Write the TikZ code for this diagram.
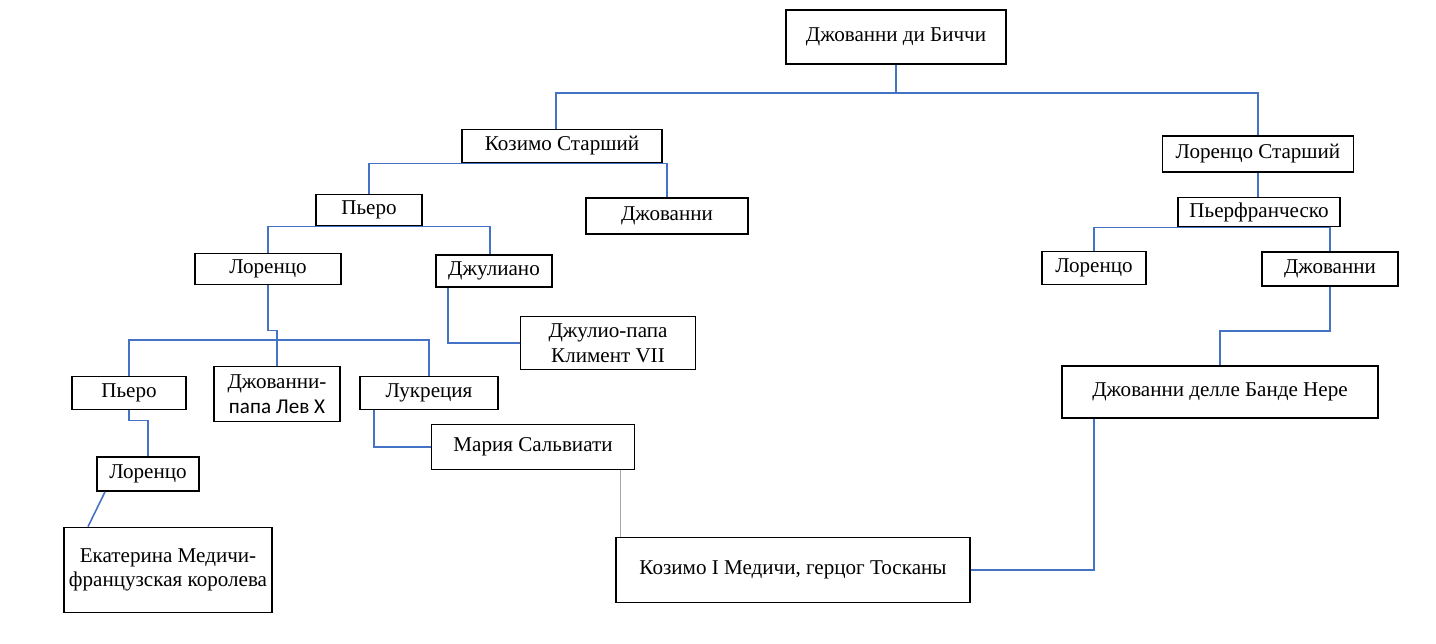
\documentclass[tikz,border=0pt]{standalone}
\usepackage{fontspec}
\setmainfont{Liberation Serif}
\newfontfamily\calibri{Carlito}
\begin{document}
\begin{tikzpicture}[x=0.02cm,y=-0.02cm, line width=0.8pt,
    box/.style={draw=black, line width=1pt, fill=white, align=center, inner sep=1pt,
        font=\fontsize{12}{14}\selectfont},
    kin/.style={draw={rgb,255:red,68;green,114;blue,196}, line width=0.9pt},
    thin/.style={draw=gray!70, line width=0.5pt}]
    \useasboundingbox (0,0) rectangle (1436,643);

    % Top generations
    \node[box, minimum width=4.4cm, minimum height=1.08cm] (gdb) at (896,37) {Джованни ди Биччи};
    \node[box, minimum width=4.0cm, minimum height=0.66cm] (kos) at (562,146) {Козимо Старший};
    \node[box, minimum width=3.82cm, minimum height=0.72cm] (los) at (1258,154) {Лоренцо Старший};
    \node[box, minimum width=2.12cm, minimum height=0.62cm] (pie1) at (369,210) {Пьеро};
    \node[box, minimum width=3.24cm, minimum height=0.72cm] (dzh1) at (667,216) {Джованни};
    \node[box, minimum width=3.24cm, minimum height=0.58cm] (pfr) at (1259,212) {Пьерфранческо};
    \node[box, minimum width=2.92cm, minimum height=0.62cm] (lor2) at (268,269) {Лоренцо};
    \node[box, minimum width=2.32cm, minimum height=0.64cm] (dzhl) at (494,271) {Джулиано};
    \node[box, minimum width=2.08cm, minimum height=0.66cm] (lorR) at (1094,268) {Лоренцо};
    \node[box, minimum width=2.72cm, minimum height=0.68cm] (dzhR) at (1330,269) {Джованни};

    % Lower generations
    \node[box, minimum width=3.5cm, minimum height=1.06cm] (klim) at (608,343) {Джулио-папа\\Климент VII};
    \node[box, minimum width=2.28cm, minimum height=0.66cm] (pie3) at (129,393) {Пьеро};
    \node[box, minimum width=2.52cm, minimum height=1.1cm] (lev) at (277,394) {Джованни-\\{\calibri папа Лев X}};
    \node[box, minimum width=2.76cm, minimum height=0.66cm] (luk) at (429,393) {Лукреция};
    \node[box, minimum width=6.32cm, minimum height=1.04cm] (bande) at (1220,392) {Джованни делле Банде Нере};
    \node[box, minimum width=4.06cm, minimum height=0.9cm] (mar) at (533,447) {Мария Сальвиати};
    \node[box, minimum width=2.04cm, minimum height=0.68cm] (lor4) at (148,474) {Лоренцо};
    \node[box, minimum width=4.16cm, minimum height=1.7cm] (ekat) at (168,570) {Екатерина Медичи-\\французская королева};
    \node[box, minimum width=7.08cm, minimum height=1.3cm] (kos1) at (793,570) {Козимо I Медичи, герцог Тосканы};

    % Connectors
    \coordinate (bar) at (277,340);
    \draw[kin] (gdb.south) -- ++(0,28) -| ([xshift=-0.12cm]kos.north);
    \draw[kin] (gdb.south) -- ++(0,28) -| (los.north);
    \draw[kin] (pie1.north) |- (kos.south);
    \draw[kin] (dzh1.north) |- (kos.south);
    \draw[kin] (los.south) -- (los.south |- pfr.north);
    \draw[kin] (lor2.north) |- (pie1.south);
    \draw[kin] ([xshift=-0.08cm]dzhl.north) |- (pie1.south);
    \draw[kin] (lorR.north) |- (pfr.south);
    \draw[kin] (dzhR.north) |- (pfr.south);
    \draw[kin] (dzhR.south) -- ++(0,44) -| (bande.north);
    \draw[kin] ([xshift=-0.92cm]dzhl.south) |- (klim.west);
    \draw[kin] (lor2.south) -- ++(0,45) -| (lev.north);
    \draw[kin] (pie3.north) |- (bar) -| (luk.north);
    \draw[kin] (pie3.south) -- ++(0,10) -| (lor4.north);
    \draw[kin] ([xshift=-0.86cm]lor4.south) -- ([xshift=-1.6cm]ekat.north);
    \draw[kin] ([xshift=-1.1cm]luk.south) |- (mar.west);
    \draw[thin] ([xshift=1.74cm]mar.south) -- ([xshift=1.74cm]mar.south |- kos1.north);
    \draw[kin] ([xshift=-2.52cm]bande.south) |- (kos1.east);
\end{tikzpicture}
\end{document}
